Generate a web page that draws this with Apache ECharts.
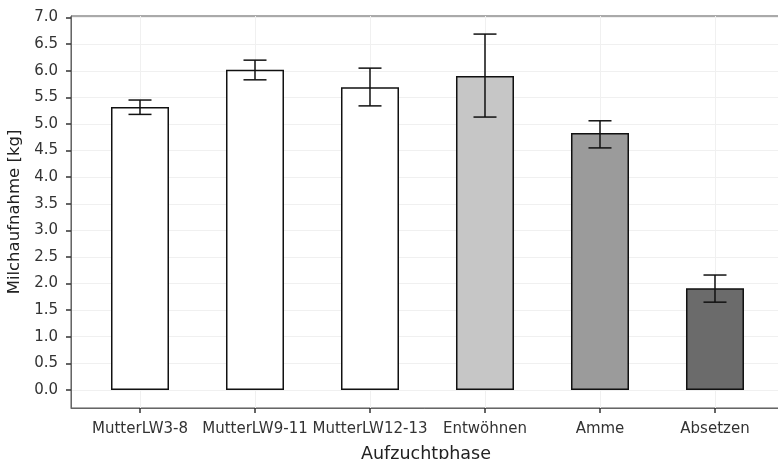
<!DOCTYPE html>
<html><head><meta charset="utf-8">
<script src="https://cdn.jsdelivr.net/npm/echarts@6/dist/echarts.min.js"></script>
<style>html,body{margin:0;padding:0;background:#fff}#c{width:778px;height:459px}</style>
</head><body><div id="c"></div>
<script>
const categories = ['MutterLW3-8', 'MutterLW9-11', 'MutterLW12-13', 'Entwöhnen', 'Amme', 'Absetzen'];
const means = [5.32, 6.02, 5.69, 5.90, 4.83, 1.91];
const errLow = [5.18, 5.83, 5.34, 5.13, 4.55, 1.65];
const errHigh = [5.45, 6.20, 6.05, 6.69, 5.06, 2.16];
const barColors = ['#ffffff', '#ffffff', '#ffffff', '#c6c6c6', '#9b9b9b', '#6b6b6b'];
const yTicks = [0, 0.5, 1, 1.5, 2, 2.5, 3, 3.5, 4, 4.5, 5, 5.5, 6, 6.5, 7];
const xTicks = [0, 1, 2, 3, 4, 5];

const FONT = 'DejaVu Sans';
const chart = echarts.init(document.getElementById('c'), null, {renderer: 'canvas'});
chart.setOption({
  animation: false,
  backgroundColor: '#fff',
  grid: {left: 71, right: -3, top: 16, bottom: 51, containLabel: false, outerBoundsMode: 'none',
    show: true, borderColor: '#555', borderWidth: 1, backgroundColor: 'transparent'},
  xAxis: {
    type: 'value', min: -0.6, max: 5.574,
    axisLine: {show: true, onZero: false, lineStyle: {color: '#666', width: 1}},
    axisTick: {show: true, customValues: xTicks, length: 5, lineStyle: {color: '#333', width: 1.5}},
    axisLabel: {customValues: xTicks, formatter: v => categories[Math.round(v)], fontFamily: FONT, fontSize: 15, color: '#333', margin: 14},
    splitLine: {show: true, customValues: xTicks, lineStyle: {color: '#f0f0f0', width: 1}},
    name: 'Aufzuchtphase', nameLocation: 'middle', nameGap: 37,
    nameTextStyle: {fontFamily: FONT, fontSize: 17.5, color: '#222'}
  },
  yAxis: {
    type: 'value', min: -0.34, max: 7.03,
    axisLine: {show: true, onZero: false, lineStyle: {color: '#666', width: 1}},
    axisTick: {show: true, customValues: yTicks, length: 5, lineStyle: {color: '#333', width: 1.5}},
    axisLabel: {customValues: yTicks, formatter: v => v.toFixed(1), fontFamily: FONT, fontSize: 15, color: '#333', margin: 13},
    splitLine: {show: true, customValues: yTicks, lineStyle: {color: '#f0f0f0', width: 1}},
    name: 'Milchaufnahme [kg]', nameLocation: 'middle', nameGap: 47,
    nameTextStyle: {fontFamily: FONT, fontSize: 16.5, color: '#222'}
  },
  series: [
    {
      type: 'bar', barWidth: 58,
      data: means.map((v, i) => ({value: [i, v], itemStyle: {color: barColors[i]}})),
      itemStyle: {borderColor: '#111', borderWidth: 1.5}
    },
    {
      type: 'custom',
      data: means.map((v, i) => [i, errLow[i], errHigh[i]]),
      renderItem: function (params, api) {
        const x = api.value(0);
        const lo = api.coord([x, api.value(1)]);
        const hi = api.coord([x, api.value(2)]);
        const hw = 11.5;
        const st = {stroke: '#111', lineWidth: 1.5};
        return {type: 'group', children: [
          {type: 'line', shape: {x1: lo[0], y1: lo[1], x2: hi[0], y2: hi[1]}, style: st},
          {type: 'line', shape: {x1: hi[0] - hw, y1: hi[1], x2: hi[0] + hw, y2: hi[1]}, style: st},
          {type: 'line', shape: {x1: lo[0] - hw, y1: lo[1], x2: lo[0] + hw, y2: lo[1]}, style: st}
        ]};
      },
      z: 5
    }
  ]
});
</script></body></html>
